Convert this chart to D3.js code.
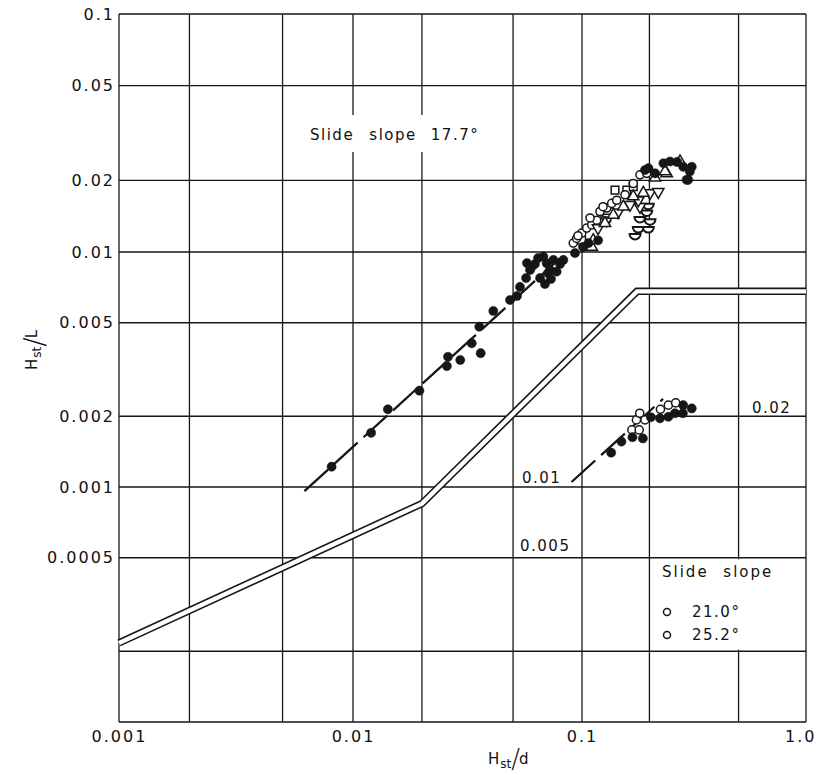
<!DOCTYPE html>
<html>
<head>
<meta charset="UTF-8">
<title>Hst/L vs Hst/d</title>
<script src="https://cdn.jsdelivr.net/npm/d3@7/dist/d3.min.js"></script>
<style>
body{margin:0;background:#fff;}
text{font-family:"DejaVu Sans",sans-serif;fill:#111;}
</style>
</head>
<body>
<div id="chart"></div>
<script>
// grid and tick values
var xGrid=[0.001,0.002,0.005,0.01,0.02,0.05,0.1,0.2,0.5,1];
var yGrid=[0.0001,0.0002,0.0005,0.001,0.002,0.005,0.01,0.02,0.05,0.1];
var xTicks=[0.001,0.01,0.1,1];
var xTickLabels=["0.001","0.01","0.1","1.0"];
var yTicks=[0.1,0.05,0.02,0.01,0.005,0.002,0.001,0.0005];
var yTickLabels=["0.1","0.05","0.02","0.01","0.005","0.002","0.001","0.0005"];

// limit curve (double line)
var limitX=[0.001,0.02,0.176,1];
var limitY=[0.000217,0.00085,0.0068,0.0068];

// dashed fit lines
var fit17X=[0.0062,0.08], fit17Y=[0.00096,0.0094];
var fit21X=[0.09,0.23], fit21Y=[0.00105,0.00237];

// slide slope 17.7 deg
var filled17X=[0.0081,0.012,0.0142,0.0195,0.0257,0.026,0.0294,0.033,0.0356,0.0361,0.041,0.0485,0.052,0.0536,0.057,0.0593,0.0603,0.0678,0.0701,0.075,0.0829,0.0775,0.0711,0.0932,0.101,0.107,0.118,
	0.0623,0.0643,0.0725,0.0656,0.0732,0.0689,0.0802,0.0575,
	0.191,0.231,0.247,0.283,0.309,0.298,0.303,0.198,0.212,0.266,0.293];
var filled17Y=[0.00122,0.0017,0.00214,0.00257,0.00327,0.00358,0.00347,0.00409,0.00481,0.00371,0.00561,0.00625,0.0065,0.0071,0.00775,0.00838,0.00866,0.00955,0.00895,0.00925,0.00925,0.00825,0.00814,0.0099,0.0105,0.0109,0.0112,
	0.00889,0.00943,0.00838,0.00775,0.00768,0.00731,0.00889,0.00897,
	0.0221,0.0236,0.024,0.0228,0.0228,0.0201,0.0218,0.0225,0.0214,0.0239,0.0201];
var open17X=[0.0916,0.0948,0.0997,0.105,0.1105,0.1163,0.1203,0.1289,0.1357,0.1429,0.1815,0.1945,0.1694,0.1241,0.1086,0.0961,0.1556];
var open17Y=[0.0109,0.0114,0.012,0.0126,0.013,0.0136,0.0148,0.0153,0.016,0.0165,0.0211,0.0214,0.0194,0.0155,0.0139,0.0117,0.0174];
var square17X=[0.0997,0.1289,0.1404,0.1584,0.1694];
var square17Y=[0.0112,0.0139,0.0182,0.0182,0.0188];
var triUp17X=[0.1105,0.138,0.153,0.1694,0.1878,0.2388,0.2738,0.1266,0.1123,0.2348,0.2118];
var triUp17Y=[0.0105,0.0143,0.0155,0.0171,0.0177,0.0214,0.024,0.0132,0.0112,0.0218,0.0205];
var triDown17X=[0.1289,0.1638,0.1815,0.2012,0.219,0.1784,0.1448,0.1179];
var triDown17Y=[0.0136,0.0158,0.0155,0.0177,0.0179,0.0165,0.0147,0.0126];
var half17X=[0.1977,0.1945,0.1815,0.2012,0.1784,0.1977,0.1725];
var half17Y=[0.0158,0.0148,0.0139,0.0136,0.0126,0.0126,0.0118];

// slide slopes 21.0 and 25.2 deg
var open21X=[0.167,0.18,0.175,0.191,0.181,0.224,0.243,0.262];
var open21Y=[0.00175,0.00175,0.00193,0.00193,0.00206,0.00214,0.00223,0.00228];
var filled25X=[0.135,0.15,0.168,0.187,0.203,0.223,0.243,0.26,0.282,0.283,0.309];
var filled25Y=[0.0014,0.00156,0.00163,0.00161,0.00198,0.00196,0.00199,0.00206,0.00206,0.00223,0.00216];

var width=817,height=775;
var svg=d3.select("#chart").append("svg")
	.attr("width",width).attr("height",height);

// scales (piecewise per decade, the scanned grid is a bit uneven)
var xScale=d3.scaleLog().domain([0.001,0.01,0.1,1]).range([119,353,582,806]);
var yScale=d3.scaleLog().domain([0.0001,0.001,0.01,0.1]).range([722,487,252,14]);

var ink="#161616";

// grid
svg.selectAll(".vg").data(xGrid).enter().append("line")
	.attr("x1",xScale).attr("x2",xScale)
	.attr("y1",yScale(0.1)).attr("y2",yScale(0.0001))
	.attr("stroke",ink).attr("stroke-width",1.3);
svg.selectAll(".hg").data(yGrid).enter().append("line")
	.attr("y1",yScale).attr("y2",yScale)
	.attr("x1",xScale(0.001)).attr("x2",xScale(1))
	.attr("stroke",ink).attr("stroke-width",1.3);

// white patches behind the texts
svg.append("rect").attr("x",303).attr("y",115).attr("width",190).attr("height",37).attr("fill","#fff");
svg.append("rect").attr("x",660).attr("y",yScale(0.0005)+1.5).attr("width",140)
	.attr("height",yScale(0.0002)-yScale(0.0005)-3).attr("fill","#fff");

// axes labels
var xAxis=d3.axisBottom(xScale).tickValues(xTicks).tickSize(0).tickPadding(9)
	.tickFormat(function(d,i){return xTickLabels[i];});
var gx=svg.append("g").attr("transform","translate(0,"+yScale(0.0001)+")").call(xAxis);
var yAxis=d3.axisLeft(yScale).tickValues(yTicks).tickSize(0).tickPadding(4)
	.tickFormat(function(d,i){return yTickLabels[i];});
var gy=svg.append("g").attr("transform","translate("+xScale(0.001)+",0)").call(yAxis);
[gx,gy].forEach(function(g){
	g.select(".domain").remove();
	g.selectAll("text").attr("font-size",16).attr("letter-spacing",2)
		.attr("font-family","DejaVu Sans").attr("fill","#111");
});
// last label sits against the right edge
gx.selectAll(".tick").filter(function(d){return d==1;}).select("text").attr("text-anchor","end").attr("dx",10);

// limit curve drawn as a double line
var limitPts=limitX.map(function(d,i){return [d,limitY[i]];});
var line=d3.line().x(function(d){return xScale(d[0]);}).y(function(d){return yScale(d[1]);});
svg.append("path").attr("d",line(limitPts)).attr("fill","none")
	.attr("stroke",ink).attr("stroke-width",7.5);
svg.append("path").attr("d",line(limitPts)).attr("fill","none")
	.attr("stroke","#fff").attr("stroke-width",4.3);

// dashed fits
function fit(xs,ys){
	svg.append("path").attr("d",line(xs.map(function(d,i){return [d,ys[i]];})))
		.attr("fill","none").attr("stroke",ink).attr("stroke-width",2.3)
		.attr("stroke-dasharray","32,8");
}
fit(fit17X,fit17Y);
fit(fit21X,fit21Y);

// markers
function marks(xs,ys,type){
	var pts=xs.map(function(d,i){return [d,ys[i]];});
	var g=svg.append("g");
	var sel=g.selectAll("path").data(pts).enter().append("path")
		.attr("transform",function(d){
			var t="translate("+xScale(d[0])+","+yScale(d[1])+")";
			return type=="down"?t+" rotate(180)":t;
		})
		.attr("stroke",ink).attr("stroke-width",1.5);
	if(type=="filled"){
		sel.attr("d",d3.symbol(d3.symbolCircle,66)).attr("fill",ink).attr("stroke-width",0.5);
	}else if(type=="open"){
		sel.attr("d",d3.symbol(d3.symbolCircle,52)).attr("fill","#fff");
	}else if(type=="square"){
		sel.attr("d",d3.symbol(d3.symbolSquare,58)).attr("fill","#fff");
	}else if(type=="up"||type=="down"){
		sel.attr("d",d3.symbol(d3.symbolTriangle,56)).attr("fill","#fff");
	}else if(type=="half"){
		sel.attr("d","M-5.5,-1L5.5,-1A5.5,5.5 0 0 1 -5.5,-1Z").attr("fill","#fff").attr("stroke-width",2);
	}
}
marks(half17X,half17Y,"half");
marks(square17X,square17Y,"square");
marks(open17X,open17Y,"open");
marks(triDown17X,triDown17Y,"down");
marks(triUp17X,triUp17Y,"up");
marks(filled17X,filled17Y,"filled");
marks(open21X,open21Y,"open");
marks(filled25X,filled25Y,"filled");

// texts in the plot
function label(x,y,s,size,ls){
	return svg.append("text").attr("x",x).attr("y",y).attr("font-size",size)
		.attr("letter-spacing",ls).text(s);
}
var t=label(310,140,"Slide slope",15,1.5).attr("word-spacing",9);
t.append("tspan").attr("dx",14).text("17.7°");
label(752,413,"0.02",15,1.5);
label(522,483,"0.01",15,1.5);
label(520,551,"0.005",15,1.5);

// legend
label(662,577,"Slide slope",15,2).attr("word-spacing",8);
svg.append("circle").attr("cx",667).attr("cy",612).attr("r",3.5)
	.attr("fill","none").attr("stroke",ink).attr("stroke-width",1.5);
svg.append("circle").attr("cx",667).attr("cy",635).attr("r",3.5)
	.attr("fill","none").attr("stroke",ink).attr("stroke-width",1.5);
label(692,617,"21.0°",15,1.5);
label(692,640,"25.2°",15,1.5);

// axis titles
var xt=svg.append("text").attr("x",488).attr("y",764).attr("font-size",15);
xt.append("tspan").text("H");
xt.append("tspan").attr("font-size",12).attr("dy",4).attr("dx",1).text("st");
xt.append("tspan").attr("font-size",26).attr("font-weight",200).attr("dy",0).text("/");
xt.append("tspan").attr("font-size",15).attr("dy",-4).attr("dx",-1).text("d");

var yt=svg.append("text").attr("transform","translate(37,370) rotate(-90)").attr("font-size",15);
yt.append("tspan").text("H");
yt.append("tspan").attr("font-size",12).attr("dy",4).attr("dx",1).text("st");
yt.append("tspan").attr("font-size",28).attr("font-weight",200).attr("dy",3).text("/");
yt.append("tspan").attr("font-size",15).attr("dy",-7).attr("dx",-1).text("L");
</script>
</body>
</html>
